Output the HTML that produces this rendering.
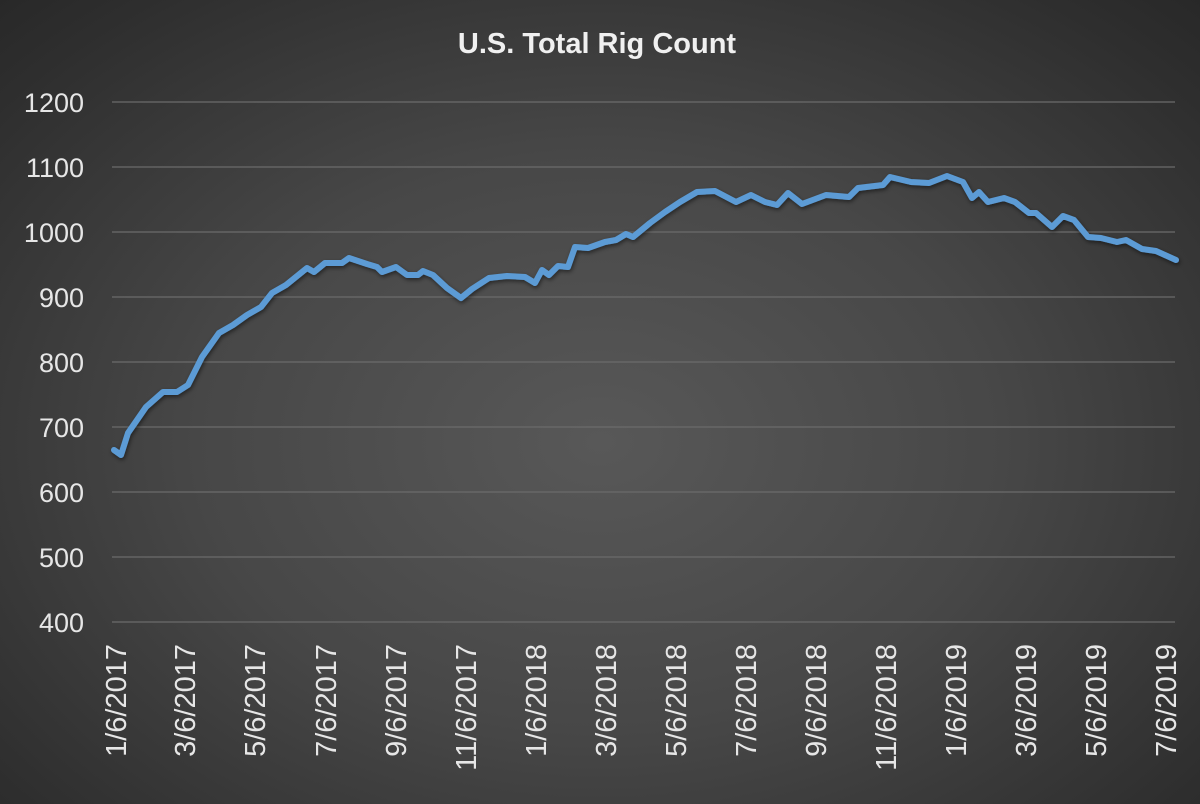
<!DOCTYPE html>
<html><head><meta charset="utf-8"><style>
html,body{margin:0;padding:0;}
body{width:1200px;height:804px;overflow:hidden;background:radial-gradient(ellipse 75% 80% at 50% 55%,#585858 0%,#474747 45%,#2e2e2e 85%,#262626 100%);}
</style></head><body>
<svg width="1200" height="804" xmlns="http://www.w3.org/2000/svg" style="position:absolute;left:0;top:0">
<defs><filter id="sh" x="-5%" y="-5%" width="110%" height="110%"><feDropShadow dx="1" dy="2" stdDeviation="2" flood-color="#000" flood-opacity="0.5"/></filter></defs>
<text x="597" y="53" text-anchor="middle" font-family="Liberation Sans, sans-serif" font-weight="bold" font-size="29" fill="#f0f0f0">U.S. Total Rig Count</text>
<g stroke="#6b6b6b" stroke-width="1.3">
<line x1="112" x2="1175" y1="102" y2="102"/><line x1="112" x2="1175" y1="167" y2="167"/><line x1="112" x2="1175" y1="232" y2="232"/><line x1="112" x2="1175" y1="297" y2="297"/><line x1="112" x2="1175" y1="362" y2="362"/><line x1="112" x2="1175" y1="427" y2="427"/><line x1="112" x2="1175" y1="492" y2="492"/><line x1="112" x2="1175" y1="557" y2="557"/><line x1="112" x2="1175" y1="622" y2="622"/>
</g>
<g font-family="Liberation Sans, sans-serif" font-size="27" fill="#e6e6e6" text-anchor="end">
<text x="84" y="112">1200</text><text x="84" y="177">1100</text><text x="84" y="242">1000</text><text x="84" y="307">900</text><text x="84" y="372">800</text><text x="84" y="437">700</text><text x="84" y="502">600</text><text x="84" y="567">500</text><text x="84" y="632">400</text>
</g>
<g font-family="Liberation Sans, sans-serif" font-size="29" fill="#e6e6e6" text-anchor="end">
<text transform="translate(126,644) rotate(-90)">1/6/2017</text>
<text transform="translate(195,644) rotate(-90)">3/6/2017</text>
<text transform="translate(265,644) rotate(-90)">5/6/2017</text>
<text transform="translate(336,644) rotate(-90)">7/6/2017</text>
<text transform="translate(406,644) rotate(-90)">9/6/2017</text>
<text transform="translate(476,644) rotate(-90)">11/6/2017</text>
<text transform="translate(546,644) rotate(-90)">1/6/2018</text>
<text transform="translate(616,644) rotate(-90)">3/6/2018</text>
<text transform="translate(686,644) rotate(-90)">5/6/2018</text>
<text transform="translate(756,644) rotate(-90)">7/6/2018</text>
<text transform="translate(826,644) rotate(-90)">9/6/2018</text>
<text transform="translate(896,644) rotate(-90)">11/6/2018</text>
<text transform="translate(966,644) rotate(-90)">1/6/2019</text>
<text transform="translate(1036,644) rotate(-90)">3/6/2019</text>
<text transform="translate(1106,644) rotate(-90)">5/6/2019</text>
<text transform="translate(1176,644) rotate(-90)">7/6/2019</text>
</g>
<polyline filter="url(#sh)" fill="none" stroke="#5b9bd5" stroke-width="6" stroke-linejoin="round" stroke-linecap="round" points="114,450 121,455 128,433 146,407 163,392 177,392 188,385 202,357 219,333 233,325 247,315 261,307 272,293 286,285 307,268 314,272 325,263 342,263 349,258 367,264 377,267 382,272 396,267 407,275 418,275 423,271 433,275 447,288 461,298 472,289 489,278 507,276 525,277 535,283 542,270 549,275 558,266 568,267 575,247 588,248 605,242 616,240 626,234 633,237 650,223 665,212 680,202 697,192 715,191 736,202 751,195 765,202 777,205 788,193 802,204 826,195 849,197 858,188 883,185 890,177 911,182 929,183 947,176 963,182 972,198 979,192 988,202 1004,198 1015,202 1029,213 1036,213 1052,227 1063,216 1074,220 1088,237 1101,238 1117,242 1126,240 1142,249 1156,251 1176,260"/>
</svg>
</body></html>
